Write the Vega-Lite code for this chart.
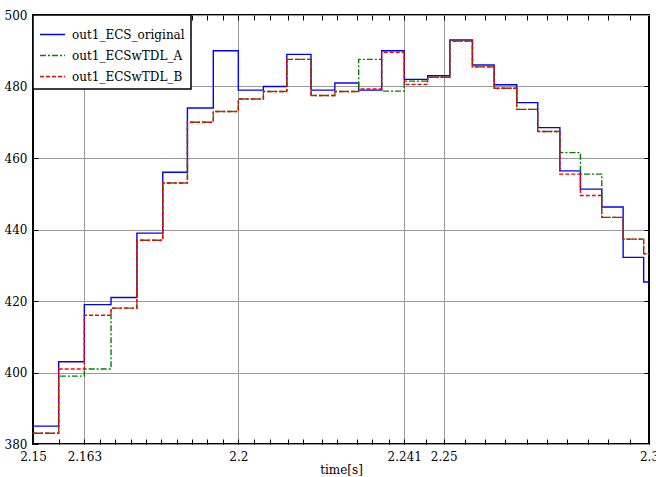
{
  "$schema": "https://vega.github.io/schema/vega-lite/v6.json",
  "width": 616,
  "height": 429,
  "autosize": {"type": "none"},
  "padding": {"left": 33, "top": 15, "right": 7, "bottom": 33},
  "background": "white",
  "datasets": {
    "series": [
      {"s": "out1_ECS_original", "t": 2.15, "v": 385}, {"s": "out1_ECS_original", "t": 2.15625, "v": 403}, {"s": "out1_ECS_original", "t": 2.1625, "v": 419}, {"s": "out1_ECS_original", "t": 2.169, "v": 421}, {"s": "out1_ECS_original", "t": 2.1753, "v": 439}, {"s": "out1_ECS_original", "t": 2.1816, "v": 456}, {"s": "out1_ECS_original", "t": 2.1876, "v": 474}, {"s": "out1_ECS_original", "t": 2.1939, "v": 490}, {"s": "out1_ECS_original", "t": 2.2, "v": 479}, {"s": "out1_ECS_original", "t": 2.2061, "v": 480}, {"s": "out1_ECS_original", "t": 2.2118, "v": 489}, {"s": "out1_ECS_original", "t": 2.2177, "v": 479}, {"s": "out1_ECS_original", "t": 2.2235, "v": 481}, {"s": "out1_ECS_original", "t": 2.2293, "v": 479}, {"s": "out1_ECS_original", "t": 2.2349, "v": 490}, {"s": "out1_ECS_original", "t": 2.2404, "v": 482}, {"s": "out1_ECS_original", "t": 2.2461, "v": 483}, {"s": "out1_ECS_original", "t": 2.2515, "v": 493}, {"s": "out1_ECS_original", "t": 2.257, "v": 486}, {"s": "out1_ECS_original", "t": 2.2623, "v": 480.5}, {"s": "out1_ECS_original", "t": 2.2678, "v": 475.5}, {"s": "out1_ECS_original", "t": 2.2729, "v": 468.5}, {"s": "out1_ECS_original", "t": 2.2783, "v": 456.4}, {"s": "out1_ECS_original", "t": 2.2833, "v": 451.3}, {"s": "out1_ECS_original", "t": 2.2885, "v": 446.3}, {"s": "out1_ECS_original", "t": 2.2937, "v": 432.2}, {"s": "out1_ECS_original", "t": 2.2987, "v": 425.3}, {"s": "out1_ECS_original", "t": 2.3, "v": 425.3},
      {"s": "out1_ECSwTDL_A", "t": 2.15, "v": 383}, {"s": "out1_ECSwTDL_A", "t": 2.15625, "v": 399}, {"s": "out1_ECSwTDL_A", "t": 2.1625, "v": 401}, {"s": "out1_ECSwTDL_A", "t": 2.169, "v": 418}, {"s": "out1_ECSwTDL_A", "t": 2.1753, "v": 437}, {"s": "out1_ECSwTDL_A", "t": 2.1816, "v": 453}, {"s": "out1_ECSwTDL_A", "t": 2.1876, "v": 470}, {"s": "out1_ECSwTDL_A", "t": 2.1939, "v": 473}, {"s": "out1_ECSwTDL_A", "t": 2.2, "v": 476.5}, {"s": "out1_ECSwTDL_A", "t": 2.2061, "v": 478.6}, {"s": "out1_ECSwTDL_A", "t": 2.2118, "v": 487.6}, {"s": "out1_ECSwTDL_A", "t": 2.2177, "v": 477.5}, {"s": "out1_ECSwTDL_A", "t": 2.2235, "v": 478.6}, {"s": "out1_ECSwTDL_A", "t": 2.2293, "v": 487.6}, {"s": "out1_ECSwTDL_A", "t": 2.2349, "v": 478.7}, {"s": "out1_ECSwTDL_A", "t": 2.2404, "v": 481.5}, {"s": "out1_ECSwTDL_A", "t": 2.2461, "v": 482.6}, {"s": "out1_ECSwTDL_A", "t": 2.2515, "v": 492.7}, {"s": "out1_ECSwTDL_A", "t": 2.257, "v": 485.5}, {"s": "out1_ECSwTDL_A", "t": 2.2623, "v": 479.5}, {"s": "out1_ECSwTDL_A", "t": 2.2678, "v": 473.6}, {"s": "out1_ECSwTDL_A", "t": 2.2729, "v": 467.4}, {"s": "out1_ECSwTDL_A", "t": 2.2783, "v": 461.5}, {"s": "out1_ECSwTDL_A", "t": 2.2833, "v": 455.5}, {"s": "out1_ECSwTDL_A", "t": 2.2885, "v": 443.4}, {"s": "out1_ECSwTDL_A", "t": 2.2937, "v": 437.3}, {"s": "out1_ECSwTDL_A", "t": 2.2987, "v": 433.2}, {"s": "out1_ECSwTDL_A", "t": 2.3, "v": 433.2},
      {"s": "out1_ECSwTDL_B", "t": 2.15, "v": 383}, {"s": "out1_ECSwTDL_B", "t": 2.15625, "v": 401}, {"s": "out1_ECSwTDL_B", "t": 2.1625, "v": 416}, {"s": "out1_ECSwTDL_B", "t": 2.169, "v": 418}, {"s": "out1_ECSwTDL_B", "t": 2.1753, "v": 437}, {"s": "out1_ECSwTDL_B", "t": 2.1816, "v": 453}, {"s": "out1_ECSwTDL_B", "t": 2.1876, "v": 470}, {"s": "out1_ECSwTDL_B", "t": 2.1939, "v": 473}, {"s": "out1_ECSwTDL_B", "t": 2.2, "v": 476.5}, {"s": "out1_ECSwTDL_B", "t": 2.2061, "v": 478.6}, {"s": "out1_ECSwTDL_B", "t": 2.2118, "v": 487.6}, {"s": "out1_ECSwTDL_B", "t": 2.2177, "v": 477.5}, {"s": "out1_ECSwTDL_B", "t": 2.2235, "v": 478.6}, {"s": "out1_ECSwTDL_B", "t": 2.2293, "v": 479.3}, {"s": "out1_ECSwTDL_B", "t": 2.2349, "v": 489.6}, {"s": "out1_ECSwTDL_B", "t": 2.2404, "v": 480.6}, {"s": "out1_ECSwTDL_B", "t": 2.2461, "v": 482.6}, {"s": "out1_ECSwTDL_B", "t": 2.2515, "v": 492.7}, {"s": "out1_ECSwTDL_B", "t": 2.257, "v": 485.5}, {"s": "out1_ECSwTDL_B", "t": 2.2623, "v": 479.5}, {"s": "out1_ECSwTDL_B", "t": 2.2678, "v": 473.6}, {"s": "out1_ECSwTDL_B", "t": 2.2729, "v": 467.4}, {"s": "out1_ECSwTDL_B", "t": 2.2783, "v": 455.5}, {"s": "out1_ECSwTDL_B", "t": 2.2833, "v": 449.5}, {"s": "out1_ECSwTDL_B", "t": 2.2885, "v": 443.4}, {"s": "out1_ECSwTDL_B", "t": 2.2937, "v": 437.3}, {"s": "out1_ECSwTDL_B", "t": 2.2987, "v": 433.2}, {"s": "out1_ECSwTDL_B", "t": 2.3, "v": 433.2}
    ]
  },
  "data": {"name": "series"},
  "layer": [
    {
      "mark": {"type": "line", "interpolate": "step-after", "strokeWidth": 1.4},
      "encoding": {
        "x": {
          "field": "t", "type": "quantitative",
          "scale": {"domain": [2.15, 2.3], "nice": false, "zero": false},
          "axis": {
            "orient": "bottom",
            "title": "time[s]",
            "offset": -5,
            "values": [2.15, 2.15626, 2.1625, 2.16631, 2.16996, 2.17385, 2.1775, 2.18115, 2.18505, 2.1887, 2.19235, 2.19624, 2.2, 2.20379, 2.20768, 2.21206, 2.21571, 2.22027, 2.22399, 2.22886, 2.23251, 2.23665, 2.2404, 2.24566, 2.25, 2.25515, 2.26001, 2.26488, 2.27024, 2.2751, 2.27997, 2.28508, 2.28995, 2.2953, 2.3],
            "labelExpr": "datum.value==2.15?'2.15':datum.value==2.1625?'2.163':datum.value==2.2?'2.2':datum.value==2.2404?'2.241':datum.value==2.25?'2.25':datum.value==2.3?'2.3':''",
            "gridOpacity": {"condition": {"test": "datum.value==2.1625||datum.value==2.2||datum.value==2.2404||datum.value==2.25", "value": 1}, "value": 0},
            "labelFlush": false,
            "labelOverlap": false,
            "labelPadding": 7,
            "titlePadding": 2
          }
        },
        "y": {
          "field": "v", "type": "quantitative",
          "scale": {"domain": [380, 500], "nice": false, "zero": false},
          "axis": {"orient": "left", "title": null, "offset": -5, "values": [380, 400, 420, 440, 460, 480, 500], "labelPadding": 6}
        },
        "color": {
          "field": "s", "type": "nominal",
          "scale": {"domain": ["out1_ECS_original", "out1_ECSwTDL_A", "out1_ECSwTDL_B"], "range": ["#0000ff", "#008000", "#ff0000"]},
          "legend": {"title": null}
        },
        "strokeDash": {
          "field": "s", "type": "nominal",
          "scale": {"domain": ["out1_ECS_original", "out1_ECSwTDL_A", "out1_ECSwTDL_B"], "range": [[1, 0], [6, 2, 2, 2], [4, 2]]},
          "legend": {"title": null}
        }
      }
    },
    {
      "mark": {"type": "line", "strokeOpacity": 0, "opacity": 0},
      "encoding": {
        "x": {
          "field": "t", "type": "quantitative",
          "axis": {
            "orient": "top", "title": null, "labels": false, "grid": false, "offset": -5,
            "values": [2.15626, 2.1625, 2.16631, 2.16996, 2.17385, 2.1775, 2.18115, 2.18505, 2.1887, 2.19235, 2.19624, 2.2, 2.20379, 2.20768, 2.21206, 2.21571, 2.22027, 2.22399, 2.22886, 2.23251, 2.23665, 2.2404, 2.24566, 2.25, 2.25515, 2.26001, 2.26488, 2.27024, 2.2751, 2.27997, 2.28508, 2.28995, 2.2953]
          }
        },
        "y": {
          "field": "v", "type": "quantitative",
          "axis": {"orient": "right", "title": null, "labels": false, "grid": false, "offset": -5, "values": [400, 420, 440, 460, 480]}
        }
      }
    }
  ],
  "config": {
    "font": "DejaVu Serif",
    "view": {"stroke": "black", "strokeWidth": 2},
    "axis": {
      "domain": false,
      "grid": true,
      "gridColor": "#9a9a9a",
      "gridWidth": 1,
      "tickColor": "black",
      "tickSize": 5,
      "tickWidth": 1,
      "zindex": 1,
      "labelFont": "DejaVu Serif",
      "labelFontSize": 12,
      "labelColor": "black",
      "titleFont": "DejaVu Serif",
      "titleFontSize": 12,
      "titleFontWeight": "normal",
      "titleColor": "black"
    },
    "legend": {
      "orient": "none",
      "legendX": 0,
      "legendY": 0,
      "zindex": 2,
      "strokeColor": "black",
      "strokeWidth": 1.5,
      "fillColor": "white",
      "padding": 6,
      "symbolType": "stroke",
      "symbolSize": 625,
      "symbolStrokeWidth": 1.4,
      "labelFont": "DejaVu Serif",
      "labelFontSize": 12,
      "labelColor": "black",
      "labelOffset": 6,
      "rowPadding": 1,
      "cornerRadius": 0
    }
  }
}
